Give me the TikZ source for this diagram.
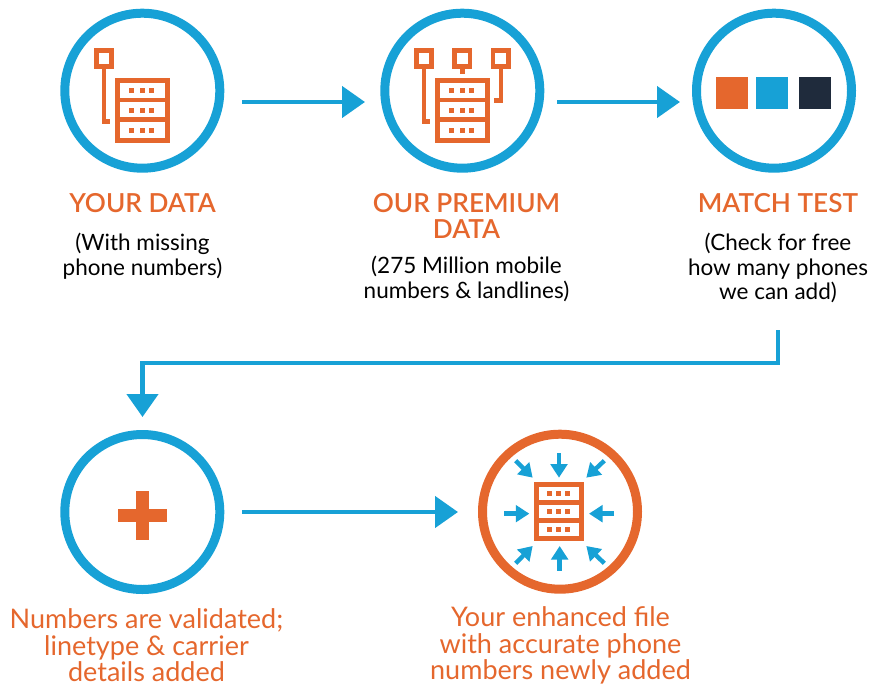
\documentclass[tikz,border=0pt]{standalone}
\usepackage{fontspec}
\setmainfont{Lato}
\newfontfamily\headfont{Lato Semibold}
\newfontfamily\oranfont{Lato}
\usetikzlibrary{arrows.meta}
\definecolor{myorange}{HTML}{E5672D}
\definecolor{myblue}{HTML}{17A1D6}
\definecolor{mydark}{HTML}{1F2B3C}
\tikzset{
  ring/.style={circle,draw=myblue,line width=9pt,minimum size=155pt,inner sep=0pt,fill=white},
  ringorange/.style={ring,draw=myorange},
  flow/.style={draw=myblue,line width=4.6pt,-{Triangle[length=23pt,width=31pt]}},
  head/.style={font=\headfont\fontsize{26.2}{26}\selectfont,text=myorange,align=center,anchor=center,inner sep=0pt},
  body/.style={font=\fontsize{22.5}{24.5}\selectfont,text=black,align=center,inner sep=0pt},
  orangetext/.style={font=\oranfont\fontsize{27}{26.5}\selectfont,text=myorange,align=center,inner sep=0pt},
  iconline/.style={draw=myorange,line width=4.8pt,line cap=butt,line join=miter},
  swatch/.style={minimum size=32pt,inner sep=0pt,draw=none},
  tinyarrow/.style={draw=myblue,line width=4.4pt,-{Triangle[length=13.5pt,width=16.5pt]}},
  rack/.pic={
    \draw[iconline] (203,242) rectangle (352,422);
    \draw[iconline] (203,300) -- (352,300);
    \draw[iconline] (203,358) -- (352,358);
    \foreach \yy in {264,324,384}{
      \foreach \xx in {237,270,297}{
        \fill[myorange] (\xx,\yy) rectangle ++(15,15);
      }
    }
  }
}
\begin{document}
\begin{tikzpicture}[x=1pt,y=-1pt]
\useasboundingbox (0,0) rectangle (870,686);
% circles
\node[ring] (c1) at (142.3,90.7) {};
\node[ring] (c2) at (462.3,90.7) {};
\node[ring] (c3) at (774,90.7) {};
\node[ring] (c4) at (142.3,512) {};
\node[ringorange] (c5) at (560,511.7) {};
% icon 1
\begin{scope}[shift={(50,0)},x=0.33333pt,y=-0.33333pt]
  \pic {rack};
  \draw[iconline] (139,152) rectangle (185,199);
  \draw[iconline] (162,205) -- (162,364) -- (179,364);
\end{scope}
% icon 2
\begin{scope}[shift={(370,0)},x=0.33333pt,y=-0.33333pt]
  \pic {rack};
  \draw[iconline] (139,152) rectangle (185,199);
  \draw[iconline] (162,205) -- (162,364) -- (179,364);
  \draw[iconline] (253,152) rectangle (300,199);
  \draw[iconline] (277,205) -- (277,222);
  \draw[iconline] (369,152) rectangle (416,199);
  \draw[iconline] (393,205) -- (393,301) -- (373,301);
\end{scope}
% swatches
\node[swatch,fill=myorange] (s1) at (732,93) {};
\node[swatch,fill=myblue] (s2) at (772,93) {};
\node[swatch,fill=mydark] (s3) at (815,93) {};
% plus
\fill[myorange] (136,491) rectangle (149,540);
\fill[myorange] (118,509) rectangle (167,522);
% icon 5
\begin{scope}[shift={(470,430)},x=0.33333pt,y=-0.33333pt]
  \draw[iconline] (199,164) rectangle (335,326);
  \draw[iconline] (199,217) -- (335,217);
  \draw[iconline] (199,271) -- (335,271);
  \foreach \yy in {183,237,291}{
    \foreach \xx in {232,258,285}{
      \fill[myorange] (\xx,\yy) rectangle ++(15,14);
    }
  }
  \draw[tinyarrow] (267,70) -- (267,143);
  \draw[tinyarrow] (269,422) -- (269,348);
  \draw[tinyarrow] (103,251) -- (178,251);
  \draw[tinyarrow] (432,251) -- (357,251);
  \draw[tinyarrow] (137,92) -- (188,143);
  \draw[tinyarrow] (403,92) -- (349,143);
  \draw[tinyarrow] (137,400) -- (188,348);
  \draw[tinyarrow] (403,400) -- (349,348);
\end{scope}
% connector ends
\coordinate (a1s) at (242,102); \coordinate (a1e) at (365,102);
\coordinate (a2s) at (557,102); \coordinate (a2e) at (680,102);
\coordinate (a3s) at (778,330); \coordinate (a3m) at (778,363); \coordinate (a3n) at (142.5,363); \coordinate (a3e) at (142.5,417);
\coordinate (a4s) at (242,512); \coordinate (a4e) at (458,512);
\draw[flow] (a1s) -- (a1e);
\draw[flow] (a2s) -- (a2e);
\draw[flow] (a3s) -- (a3m) -- (a3n) -- (a3e);
\draw[flow] (a4s) -- (a4e);
% labels
\node[head] (t1) at (142.5,203) {YOUR DATA};
\node[body] (b1) at (142.5,256) {(With missing\\phone numbers)};
\node[head,align=center] (t2a) at (466.5,203) {OUR PREMIUM};
\node[head] (t2b) at (466.5,229) {DATA};
\node[body] (b2) at (466.5,279) {(275 Million mobile\\numbers \& landlines)};
\node[head] (t3) at (778,203) {MATCH TEST};
\node[body] (b3) at (778,268) {(Check for free\\how many phones\\we can add)};
\node[orangetext] (l4) at (146.5,645.5) {Numbers are validated;\\linetype \& carrier\\details added};
\node[orangetext] (l5) at (560.5,645.5) {Your enhanced file\\with accurate phone\\numbers newly added};
\end{tikzpicture}
\end{document}
